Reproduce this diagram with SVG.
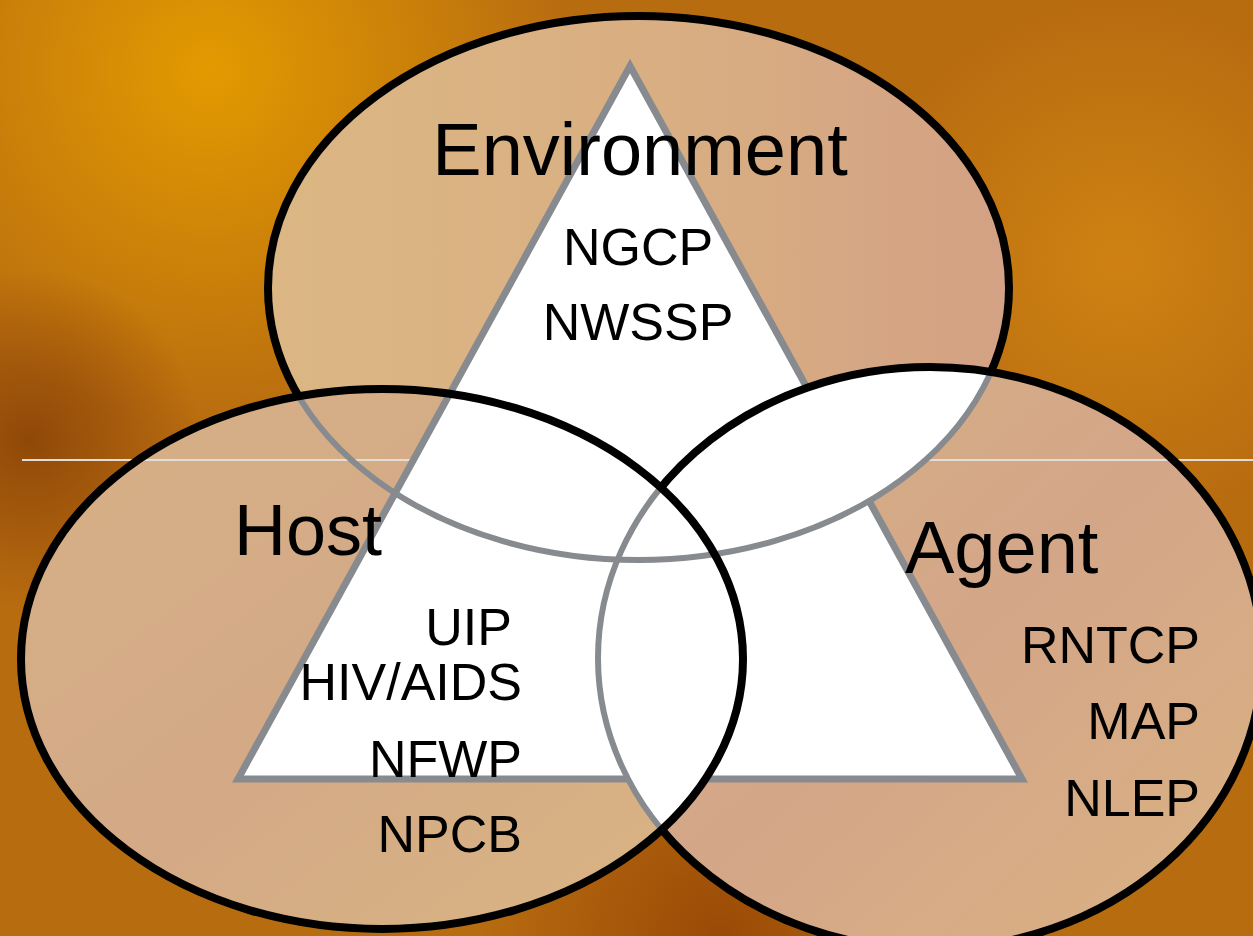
<svg xmlns="http://www.w3.org/2000/svg" width="1253" height="936" viewBox="0 0 1253 936">
<style>
.lbl{font-family:"Liberation Sans",Arial,sans-serif;fill:#000}
.big{font-size:74px}
.sm{font-size:52px}
.blk{fill:none;stroke:#000;stroke-width:8}
.gry{fill:none;stroke:#878a8e;stroke-width:6}
.wht{fill:#fff}
</style>
<defs>
<radialGradient id="bgHi" cx="210" cy="70" r="360" gradientUnits="userSpaceOnUse">
<stop offset="0" stop-color="#e39a00"/>
<stop offset="1" stop-color="#e39a00" stop-opacity="0"/>
</radialGradient>
<radialGradient id="bgDk" cx="30" cy="440" r="170" gradientUnits="userSpaceOnUse">
<stop offset="0" stop-color="#904808"/>
<stop offset="1" stop-color="#904808" stop-opacity="0"/>
</radialGradient>
<radialGradient id="bgDk2" cx="720" cy="936" r="240" gradientUnits="userSpaceOnUse">
<stop offset="0" stop-color="#9a4a06"/>
<stop offset="1" stop-color="#9a4a06" stop-opacity="0"/>
</radialGradient>
<radialGradient id="bgR" cx="1120" cy="260" r="260" gradientUnits="userSpaceOnUse">
<stop offset="0" stop-color="#cf8212"/>
<stop offset="1" stop-color="#cf8212" stop-opacity="0"/>
</radialGradient>
<linearGradient id="fEnv" x1="0" y1="0" x2="1" y2="0">
<stop offset="0" stop-color="#dbb784"/>
<stop offset="0.55" stop-color="#d9ae82"/>
<stop offset="1" stop-color="#d3a184"/>
</linearGradient>
<linearGradient id="fHost" x1="0" y1="0" x2="1" y2="1">
<stop offset="0" stop-color="#d6b186"/>
<stop offset="0.5" stop-color="#d3a986"/>
<stop offset="1" stop-color="#dab682"/>
</linearGradient>
<linearGradient id="fAgent" x1="0" y1="0" x2="1" y2="1">
<stop offset="0" stop-color="#d8b284"/>
<stop offset="0.5" stop-color="#d3a688"/>
<stop offset="1" stop-color="#dbb282"/>
</linearGradient>
<clipPath id="cHost"><ellipse cx="382" cy="659" rx="361" ry="270"/></clipPath>
<clipPath id="cAgent"><ellipse cx="930" cy="658" rx="332" ry="291"/></clipPath>
<clipPath id="cHA"><ellipse cx="382" cy="659" rx="361" ry="270"/><ellipse cx="930" cy="658" rx="332" ry="291"/></clipPath>
<mask id="mOutHA" maskUnits="userSpaceOnUse" x="0" y="0" width="1253" height="936">
<rect width="1253" height="936" fill="#fff"/>
<ellipse cx="382" cy="659" rx="361" ry="270" fill="#000"/>
<ellipse cx="930" cy="658" rx="332" ry="291" fill="#000"/>
</mask>
<mask id="mOutH" maskUnits="userSpaceOnUse" x="0" y="0" width="1253" height="936">
<rect width="1253" height="936" fill="#fff"/>
<ellipse cx="382" cy="659" rx="361" ry="270" fill="#000"/>
</mask>
</defs>

<g id="background">
<rect width="1253" height="936" fill="#b86c10"/>
<rect width="1253" height="936" fill="url(#bgR)"/>
<rect width="1253" height="936" fill="url(#bgHi)"/>
<rect width="1253" height="936" fill="url(#bgDk)"/>
<rect width="1253" height="936" fill="url(#bgDk2)"/>
</g>

<g id="fills">
<ellipse cx="638.5" cy="288" rx="370.5" ry="272" fill="url(#fEnv)"/>
<ellipse cx="930" cy="658" rx="332" ry="291" fill="url(#fAgent)"/>
<ellipse cx="382" cy="659" rx="361" ry="270" fill="url(#fHost)"/>
</g>

<line id="rule" x1="22" y1="460" x2="1253" y2="460" stroke="#e2ddd6" stroke-width="2"/>

<g id="triangle">
<polygon points="630,66 1022,779 238,779" fill="#fff" stroke="#878a8e" stroke-width="7" stroke-linejoin="miter"/>
</g>

<g id="overlaps">
<g clip-path="url(#cAgent)">
<ellipse class="wht" cx="638.5" cy="288" rx="370.5" ry="272"/>
<ellipse class="wht" cx="382" cy="659" rx="361" ry="270"/>
</g>
</g>

<g id="connectors">
<ellipse class="gry" cx="638.5" cy="288" rx="370.5" ry="272" clip-path="url(#cHA)"/>
<ellipse class="gry" cx="930" cy="658" rx="332" ry="291" clip-path="url(#cHost)"/>
</g>

<g id="environment">
<ellipse class="blk" cx="638.5" cy="288" rx="370.5" ry="272" mask="url(#mOutHA)"/>
<text class="lbl big" x="640" y="175" text-anchor="middle">Environment</text>
<text class="lbl sm" x="638" y="265" text-anchor="middle">NGCP</text>
<text class="lbl sm" x="638" y="340" text-anchor="middle">NWSSP</text>
</g>

<g id="agent">
<ellipse class="blk" cx="930" cy="658" rx="332" ry="291" mask="url(#mOutH)"/>
<text class="lbl big" x="905" y="573">Agent</text>
<text class="lbl sm" x="1200" y="663" text-anchor="end">RNTCP</text>
<text class="lbl sm" x="1200" y="739" text-anchor="end">MAP</text>
<text class="lbl sm" x="1200" y="816" text-anchor="end">NLEP</text>
</g>

<g id="host">
<ellipse class="blk" cx="382" cy="659" rx="361" ry="270"/>
<text class="lbl" style="font-size:72px" x="234" y="555">Host</text>
<text class="lbl sm" x="512" y="645" text-anchor="end">UIP</text>
<text class="lbl sm" x="522" y="700" text-anchor="end">HIV/AIDS</text>
<text class="lbl sm" x="522" y="777" text-anchor="end">NFWP</text>
<text class="lbl sm" x="522" y="852" text-anchor="end">NPCB</text>
</g>
</svg>
